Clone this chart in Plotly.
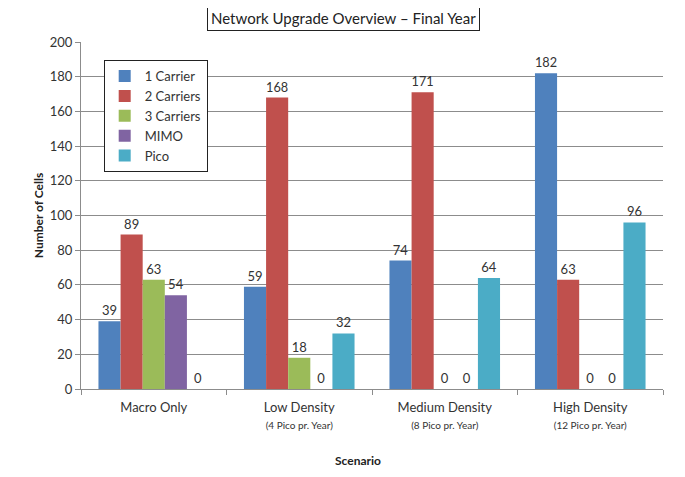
import plotly.graph_objects as go

scenarios = [
    "Macro Only",
    "Low Density<br><span style='font-size:10px'>(4 Pico pr. Year)</span>",
    "Medium Density<br><span style='font-size:10px'>(8 Pico pr. Year)</span>",
    "High Density<br><span style='font-size:10px'>(12 Pico pr. Year)</span>",
]
carrier1 = [39, 59, 74, 182]
carrier2 = [89, 168, 171, 63]
carrier3 = [63, 18, 0, 0]
mimo = [54, 0, 0, 0]
pico = [0, 32, 64, 96]

series = [
    ("1 Carrier", carrier1, "#4F81BD"),
    ("2 Carriers", carrier2, "#C0504D"),
    ("3 Carriers", carrier3, "#9BBB59"),
    ("MIMO", mimo, "#8064A2"),
    ("Pico", pico, "#4BACC6"),
]

font = "Lato, 'Open Sans', sans-serif"

fig = go.Figure()
for name, vals, color in series:
    fig.add_trace(go.Bar(
        x=scenarios, y=vals, name=name,
        marker=dict(color=color, line=dict(width=0)),
        text=vals, textposition="outside", cliponaxis=False,
        textfont=dict(size=13, color="#333333", family=font),
    ))

# page has an 8px body margin, so the figure is sized/offset to compensate
fig.update_layout(
    width=677, height=469,
    margin=dict(l=73, r=22, t=34, b=88),
    paper_bgcolor="white", plot_bgcolor="white",
    font=dict(family=font, size=12, color="#333333"),
    barmode="group", bargap=0.24, bargroupgap=0,
    showlegend=True,
    legend=dict(
        x=0.039, y=0.948, xanchor="left", yanchor="top",
        bgcolor="white", bordercolor="#222222", borderwidth=1,
        font=dict(size=13, family=font, color="#333333"),
        itemwidth=30, tracegroupgap=0,
    ),
    annotations=[
        dict(
            text="Network Upgrade Overview \u2013 Final Year",
            xref="paper", yref="paper", x=0.451, y=1.0706,
            xanchor="center", yanchor="middle", showarrow=False,
            font=dict(size=15, family=font, color="#222222"),
            bordercolor="#222222", borderwidth=1, borderpad=3, bgcolor="white",
        ),
        dict(
            text="<b>Scenario</b>",
            xref="paper", yref="paper", x=0.476, y=-0.205,
            xanchor="center", yanchor="middle", showarrow=False,
            font=dict(size=12, family=font, color="#222222"),
        ),
    ],
)

fig.update_yaxes(
    range=[0, 200], dtick=20,
    showgrid=True, gridcolor="#8C8C8C", gridwidth=1,
    showline=True, linecolor="#8C8C8C",
    ticks="outside", ticklen=5, tickcolor="#8C8C8C",
    tickfont=dict(size=13, color="#333333"),
    title=dict(text="<b>Number of Cells</b>", font=dict(size=12, color="#222222"), standoff=3),
    zeroline=False,
)
fig.update_xaxes(
    showline=True, linecolor="#8C8C8C",
    ticks="outside", tickson="boundaries", ticklen=5, tickcolor="#8C8C8C",
    tickfont=dict(size=13, color="#333333"),
    ticklabelstandoff=6,
)

fig.write_html("out.html")
